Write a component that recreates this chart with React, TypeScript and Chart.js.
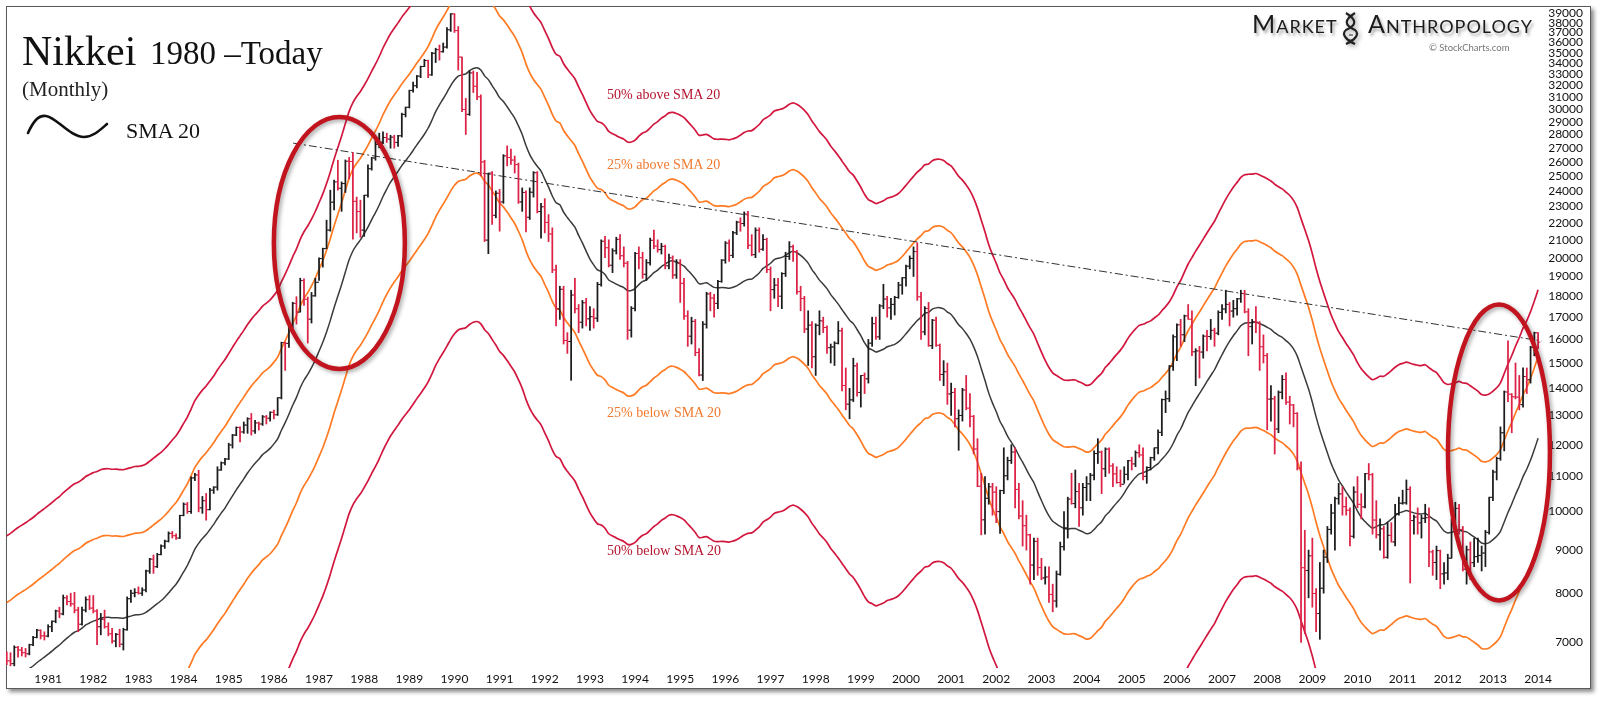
import React, { useEffect, useRef } from "react";
import { Chart, registerables } from "chart.js";
Chart.register(...registerables);

// Monthly Nikkei 225, Feb 1980 – Jan 2014 (x = months since Jan 1980)
const FIRST_MONTH = 1;

// closes Jul 1978 – Jan 1980, only used to warm up the 20-month SMA
const historyCloses = [
  5800, 5850, 5880, 5950, 5980, 6002,
  6150, 6080, 6070, 6080, 6220, 6310, 6390, 6480, 6540, 6560, 6520, 6569,
  6720,
];

const opens = [
  6720, 6650, 6600, 6900, 6850, 6800, 6780, 6950, 7090, 7230, 7120,
  7116, 7300, 7410, 7620, 7560, 7900, 7820, 7770, 7640, 7350, 7640, 7860,
  7681, 7620, 7300, 7450, 7300, 7160, 7020, 7150, 6960, 7240, 7880, 8000,
  8016, 8000, 8070, 8500, 8780, 8600, 8890, 9100, 9220, 9420, 9360, 9300,
  9893, 10200, 10000, 10960, 11050, 10100, 10300, 10050, 10600, 10690, 11200, 11420,
  11542, 11992, 12321, 12580, 12426, 12662, 12882, 12461, 12736, 12700, 12950, 12900,
  13113, 13024, 13641, 15860, 15826, 16610, 17654, 17240, 18787, 17852, 16910, 18020,
  18701, 19950, 20500, 21566, 23274, 24600, 24176, 24489, 26029, 26011, 23329, 22686,
  21564, 23719, 25500, 26260, 27256, 27417, 27769, 27650, 27800, 27400, 27900, 29579,
  30159, 31581, 31985, 32839, 33713, 34267, 32949, 34954, 35300, 35100, 35549, 37269,
  38916, 37189, 34591, 29980, 29585, 33131, 31940, 31036, 25978, 20984, 25194, 22455,
  23849, 23293, 26409, 26292, 26111, 25790, 23291, 23900, 22336, 23916, 25222, 22687,
  22984, 22023, 21338, 19346, 17391, 18348, 15952, 15910, 18061, 17399, 16767, 17685,
  16925, 17024, 16953, 18591, 20919, 20552, 19591, 20380, 21027, 20106, 19703, 16408,
  17417, 20229, 19997, 19112, 19725, 20974, 20644, 20449, 20629, 19564, 19990, 19076,
  19723, 18650, 17053, 16140, 16807, 15437, 14517, 16678, 18117, 17913, 17655, 18744,
  19868, 20813, 20125, 21407, 22041, 21956, 22531, 20693, 20167, 21556, 20467, 21020,
  19361, 18330, 18557, 18003, 19151, 20069, 20605, 20331, 18229, 17888, 16459, 16636,
  15259, 16628, 16832, 16527, 15641, 15671, 15831, 16379, 14108, 13406, 13565, 14883,
  13842, 14499, 14368, 15837, 16702, 16112, 17530, 17862, 17437, 17605, 17942, 18558,
  18934, 19540, 19960, 20337, 17974, 16332, 17411, 15727, 16861, 15747, 14539, 14649,
  13786, 13843, 12883, 12999, 13934, 13262, 12969, 11860, 10714, 9775, 10367, 10697,
  10543, 9997, 10588, 11025, 11493, 11764, 10622, 9877, 9619, 9383, 8640, 9216,
  8579, 8340, 8363, 7973, 7831, 8425, 9083, 9563, 10344, 10219, 10560, 10101,
  10677, 10784, 11042, 11715, 11762, 11236, 11859, 11326, 11082, 10824, 10771, 11069,
  11489, 11388, 11741, 11669, 11009, 11277, 11584, 11900, 12414, 13574, 13607, 14872,
  16111, 16650, 16205, 17060, 16907, 15467, 15505, 15457, 16141, 16128, 16399, 16274,
  17226, 17383, 17604, 17288, 17400, 17876, 18138, 17249, 16569, 16786, 16737, 15681,
  15308, 13592, 13603, 12526, 13850, 14339, 13481, 13377, 13073, 11260, 8577, 8512,
  8860, 7994, 7568, 8110, 8828, 9523, 9958, 10357, 10493, 10133, 10035, 9346,
  10546, 10198, 10126, 11090, 11057, 9769, 9383, 9537, 8824, 9369, 9202, 9937,
  10229, 10238, 10624, 9755, 9850, 9694, 9816, 9833, 8955, 8700, 8988, 8435,
  8455, 8803, 9723, 10084, 9521, 8543, 9007, 8695, 8840, 8870, 8928, 9446,
  10395, 11139, 11559, 12398, 13861, 13775, 13677, 13668, 13389, 14456, 14328, 15662,
  16291,
];

const highs = [
  6815, 6800, 6930, 6920, 6900, 6880, 6960, 7110, 7250, 7240, 7200,
  7340, 7420, 7640, 7700, 7960, 7950, 8000, 8020, 7700, 7700, 7920, 7950,
  7950, 7650, 7570, 7640, 7380, 7270, 7170, 7250, 7270, 7920, 8070, 8100,
  8140, 8120, 8520, 8800, 8880, 8920, 9130, 9250, 9460, 9470, 9410, 9900,
  10240, 10250, 10990, 11100, 11190, 10420, 10505, 10650, 10700, 11300, 11450, 11560,
  12050, 12345, 12600, 12600, 12770, 12920, 13070, 12830, 12770, 13000, 13000, 13130,
  13190, 13650, 15880, 15880, 16730, 17710, 17980, 18910, 18880, 17960, 18190, 18910,
  19990, 20530, 22160, 24050, 24720, 26100, 24600, 26120, 26300, 26646, 23600, 23400,
  23720, 25770, 26300, 27570, 28100, 28200, 28100, 27940, 27940, 27940, 29680, 30180,
  31600, 32300, 32900, 33750, 34380, 34300, 35050, 35440, 35750, 35950, 37500, 38957,
  38950, 37600, 34600, 30900, 33300, 33300, 33170, 31200, 26100, 25200, 25300, 24000,
  24100, 26500, 27146, 26900, 26400, 25900, 24200, 24000, 24200, 25300, 25300, 23200,
  23500, 22500, 21700, 19600, 18500, 18500, 16300, 18300, 18900, 17600, 17800, 17900,
  17500, 17400, 18700, 21000, 21200, 21000, 20500, 21150, 21300, 20600, 19800, 17500,
  20300, 20600, 20300, 19900, 21100, 21573, 21000, 20800, 20700, 20200, 20100, 19900,
  19900, 18900, 17300, 17000, 16900, 15600, 16800, 18200, 18200, 18100, 18800, 19900,
  20900, 21000, 21500, 22100, 22300, 22666, 22700, 21300, 21700, 21700, 21300, 21100,
  19500, 18900, 18900, 19200, 20300, 20900, 20700, 20400, 18500, 18000, 17300, 16800,
  16700, 17300, 17000, 16600, 15800, 15900, 16800, 16500, 14800, 14000, 15200, 15000,
  14500, 14600, 16000, 17000, 17000, 17600, 18600, 18000, 17900, 18000, 18700, 18950,
  19600, 20100, 20600, 20833, 18200, 17500, 17700, 16900, 17000, 15800, 15100, 15000,
  14200, 14000, 13200, 14000, 14500, 13800, 13000, 12200, 11100, 11000, 10800, 10800,
  10700, 10600, 11900, 11600, 12000, 11900, 10800, 10300, 9900, 9400, 9300, 9300,
  8800, 8600, 8600, 8200, 8500, 9200, 10000, 10400, 11100, 11200, 10800, 10800,
  11000, 11100, 11800, 12200, 11800, 11900, 11900, 11400, 11300, 11200, 11300, 11500,
  11600, 11800, 12000, 11900, 11300, 11600, 11900, 12500, 13600, 13900, 14900, 16200,
  16700, 16900, 17100, 17600, 17300, 15600, 15700, 16200, 16400, 16900, 16500, 17300,
  17600, 18300, 17700, 17800, 17900, 18300, 18300, 17400, 16900, 17500, 16800, 16200,
  15400, 14100, 13700, 13900, 14500, 14600, 13700, 13400, 13100, 11456, 9500, 9000,
  9300, 8100, 8700, 9000, 9600, 10200, 10400, 10800, 10700, 10400, 10100, 10700,
  11000, 10500, 11100, 11400, 11100, 10300, 9800, 9600, 9700, 9700, 10200, 10400,
  10600, 10900, 10700, 9900, 10100, 9900, 10200, 10100, 9000, 9100, 9000, 8700,
  8900, 9800, 10255, 10200, 9600, 9100, 9200, 9300, 9300, 9100, 9500, 10400,
  11200, 11600, 12600, 13900, 15942, 13800, 15000, 14500, 14800, 14800, 15700, 16320,
  16300,
];

const lows = [
  6580, 6560, 6560, 6720, 6740, 6720, 6760, 6930, 7080, 7060, 7040,
  7100, 7200, 7380, 7480, 7540, 7750, 7720, 7580, 7200, 7330, 7600, 7650,
  7580, 6950, 7140, 7270, 7120, 6980, 6910, 6910, 6850, 7230, 7800, 7920,
  7980, 7950, 8030, 8445, 8445, 8580, 8880, 9040, 9200, 9300, 9265, 9290,
  9880, 9950, 9950, 10880, 9990, 9950, 9765, 10040, 10505, 10600, 11190, 11360,
  11520, 11890, 12300, 12095, 12380, 12380, 12320, 12380, 12490, 12650, 12700, 12800,
  12880, 13000, 13600, 14700, 15650, 16500, 16680, 17240, 17560, 15840, 16730, 18000,
  18800, 19490, 20500, 21500, 22780, 24050, 22700, 23900, 24800, 21037, 21400, 21150,
  21200, 23600, 25400, 26100, 27000, 27300, 27400, 26970, 26970, 27100, 27800, 29380,
  30100, 31420, 31800, 32700, 33700, 32700, 32900, 34080, 34300, 35050, 35450, 37100,
  37000, 33380, 29800, 28002, 29500, 31400, 30800, 25000, 20900, 20221, 21900, 22300,
  21500, 23200, 25700, 25800, 25200, 23200, 22700, 21456, 22200, 23600, 22600, 21100,
  21400, 20900, 19200, 16600, 16900, 15800, 15400, 14309, 17200, 16300, 16500, 16600,
  16400, 16500, 16800, 18500, 20000, 19500, 19200, 20200, 19900, 19500, 16000, 16100,
  17300, 19400, 18900, 18800, 19600, 20500, 20300, 20200, 19400, 19400, 18900, 18900,
  17700, 16900, 15700, 15800, 15300, 14485, 14300, 16500, 17300, 17000, 17400, 18700,
  19700, 19800, 20000, 21300, 21500, 21800, 20500, 20100, 20000, 20300, 20400, 19200,
  17300, 17900, 17500, 17400, 19000, 19900, 19800, 18100, 17300, 16300, 14900, 14800,
  14500, 16200, 16300, 15400, 15000, 14900, 15800, 13900, 13200, 12880, 13500, 13700,
  13300, 13800, 14200, 15700, 16000, 16000, 17400, 17000, 16900, 17100, 17900, 18100,
  18500, 19400, 19000, 17800, 16000, 16200, 15700, 15600, 15700, 14300, 14100, 13400,
  13000, 12600, 11819, 12800, 13200, 12600, 11700, 10700, 9382, 9400, 10200, 9900,
  9700, 9420, 10500, 10900, 11400, 10100, 9800, 9100, 9000, 8200, 8300, 8400,
  8300, 8200, 7800, 7603, 7700, 8400, 9000, 9300, 10200, 10100, 9600, 9900,
  10300, 10300, 10900, 11400, 10500, 11000, 11100, 10700, 10800, 10700, 10800, 10900,
  11200, 11300, 11600, 10900, 10800, 11200, 11500, 11700, 12300, 13100, 13500, 14700,
  15100, 15700, 15900, 16900, 15300, 14100, 14400, 15200, 15500, 16000, 15700, 16200,
  16900, 17200, 16600, 17000, 17100, 17700, 17200, 15300, 15800, 16300, 14700, 15000,
  12500, 12800, 11700, 12400, 13600, 13400, 12700, 12600, 11200, 6994, 7162, 7900,
  7700, 7200, 7054, 8000, 8700, 9400, 9000, 10200, 9900, 9900, 9100, 9300,
  10100, 9800, 10100, 10900, 9400, 9300, 9000, 8800, 8800, 9200, 9100, 9900,
  10200, 10200, 8227, 9400, 9400, 9300, 9700, 8600, 8400, 8300, 8100, 8200,
  8300, 8800, 9700, 9400, 8500, 8200, 8300, 8600, 8700, 8500, 8600, 9400,
  10300, 10900, 11500, 11800, 13500, 12400, 13600, 13200, 13300, 13800, 14200, 15300,
  15600,
];

const closes = [
  6650, 6600, 6900, 6850, 6800, 6780, 6950, 7090, 7230, 7120, 7116,
  7300, 7410, 7620, 7560, 7900, 7820, 7770, 7640, 7350, 7640, 7860, 7681,
  7620, 7300, 7450, 7300, 7160, 7020, 7150, 6960, 7240, 7880, 8000, 8016,
  8000, 8070, 8500, 8780, 8600, 8890, 9100, 9220, 9420, 9360, 9300, 9893,
  10200, 10000, 10960, 11050, 10100, 10300, 10050, 10600, 10690, 11200, 11420, 11542,
  11992, 12321, 12580, 12426, 12662, 12882, 12461, 12736, 12700, 12950, 12900, 13113,
  13024, 13641, 15860, 15826, 16610, 17654, 17240, 18787, 17852, 16910, 18020, 18701,
  19950, 20500, 21566, 23274, 24600, 24176, 24489, 26029, 26011, 23329, 22686, 21564,
  23719, 25500, 26260, 27256, 27417, 27769, 27650, 27800, 27400, 27900, 29579, 30159,
  31581, 31985, 32839, 33713, 34267, 32949, 34954, 35300, 35100, 35549, 37269, 38916,
  37189, 34591, 29980, 29585, 33131, 31940, 31036, 25978, 20984, 25194, 22455, 23849,
  23293, 26409, 26292, 26111, 25790, 23291, 23900, 22336, 23916, 25222, 22687, 22984,
  22023, 21338, 19346, 17391, 18348, 15952, 15910, 18061, 17399, 16767, 17685, 16925,
  17024, 16953, 18591, 20919, 20552, 19591, 20380, 21027, 20106, 19703, 16408, 17417,
  20229, 19997, 19112, 19725, 20974, 20644, 20449, 20629, 19564, 19990, 19076, 19723,
  18650, 17053, 16140, 16807, 15437, 14517, 16678, 18117, 17913, 17655, 18744, 19868,
  20813, 20125, 21407, 22041, 21956, 22531, 20693, 20167, 21556, 20467, 21020, 19361,
  18330, 18557, 18003, 19151, 20069, 20605, 20331, 18229, 17888, 16459, 16636, 15259,
  16628, 16832, 16527, 15641, 15671, 15831, 16379, 14108, 13406, 13565, 14883, 13842,
  14499, 14368, 15837, 16702, 16112, 17530, 17862, 17437, 17605, 17942, 18558, 18934,
  19540, 19960, 20337, 17974, 16332, 17411, 15727, 16861, 15747, 14539, 14649, 13786,
  13843, 12883, 12999, 13934, 13262, 12969, 11860, 10714, 9775, 10367, 10697, 10543,
  9997, 10588, 11025, 11493, 11764, 10622, 9877, 9619, 9383, 8640, 9216, 8579,
  8340, 8363, 7973, 7831, 8425, 9083, 9563, 10344, 10219, 10560, 10101, 10677,
  10784, 11042, 11715, 11762, 11236, 11859, 11326, 11082, 10824, 10771, 11069, 11489,
  11388, 11741, 11669, 11009, 11277, 11584, 11900, 12414, 13574, 13607, 14872, 16111,
  16650, 16205, 17060, 16907, 15467, 15505, 15457, 16141, 16128, 16399, 16274, 17226,
  17383, 17604, 17288, 17400, 17876, 18138, 17249, 16569, 16786, 16737, 15681, 15308,
  13592, 13603, 12526, 13850, 14339, 13481, 13377, 13073, 11260, 8577, 8512, 8860,
  7994, 7568, 8110, 8828, 9523, 9958, 10357, 10493, 10133, 10035, 9346, 10546,
  10198, 10126, 11090, 11057, 9769, 9383, 9537, 8824, 9369, 9202, 9937, 10229,
  10238, 10624, 9755, 9850, 9694, 9816, 9833, 8955, 8700, 8988, 8435, 8455,
  8803, 9723, 10084, 9521, 8543, 9007, 8695, 8840, 8870, 8928, 9446, 10395,
  11139, 11559, 12398, 13861, 13775, 13677, 13668, 13389, 14456, 14328, 15662, 16291,
  15880,
];

const yearLabels = [
  "1981", "1982", "1983", "1984", "1985", "1986", "1987", "1988", "1989", "1990",
  "1991", "1992", "1993", "1994", "1995", "1996", "1997", "1998", "1999", "2000",
  "2001", "2002", "2003", "2004", "2005", "2006", "2007", "2008", "2009", "2010",
  "2011", "2012", "2013", "2014",
];

const yTicks = [
  7000, 8000, 9000, 10000, 11000, 12000, 13000, 14000, 15000, 16000, 17000,
  18000, 19000, 20000, 21000, 22000, 23000, 24000, 25000, 26000, 27000, 28000,
  29000, 30000, 31000, 32000, 33000, 34000, 35000, 36000, 37000, 38000, 39000,
];

// dash-dot resistance line: [month, value]
const trendStart = [77.1, 27350];
const trendEnd = [409.0, 15930];

// highlight ellipses: centre [month, value]
const ellipseCenters = [
  [89.4, 20820],
  [397.6, 11750],
];
const ellipseRadii = [
  [65.5, 126],
  [51, 148],
];

const TICK_FONT = "'Liberation Sans Narrow', Lato, sans-serif";
const SERIF = "'Liberation Serif', 'DejaVu Serif', serif";

export default function App() {
  const canvasRef = useRef<HTMLCanvasElement | null>(null);

  useEffect(() => {
    document.body.style.margin = "0";
    const canvas = canvasRef.current;
    if (!canvas) return;

    const months = closes.map((_, i) => i + FIRST_MONTH);
    const all = [...historyCloses, ...closes];
    const sma = closes.map((_, i) => {
      const j = i + historyCloses.length;
      let s = 0;
      for (let k = j - 19; k <= j; k++) s += all[k];
      return s / 20;
    });
    const colors = closes.map((c, i) => (c >= opens[i] ? "#1c1c1c" : "#dc2346"));

    const line = (mult: number) => sma.map((v, i) => ({ x: months[i], y: v * mult }));
    const yearByMonth: Record<number, string> = {};
    yearLabels.forEach((y, i) => (yearByMonth[12 * (i + 1)] = y));

    const ellipsePlugin = {
      id: "ellipses",
      afterDatasetsDraw(chart: any) {
        const { ctx, scales } = chart;
        ctx.save();
        ctx.strokeStyle = "#c2141e";
        ctx.lineWidth = 4.5;
        ctx.shadowColor = "rgba(0,0,0,0.35)";
        ctx.shadowBlur = 4;
        ctx.shadowOffsetX = 2;
        ctx.shadowOffsetY = 2;
        ellipseCenters.forEach((c, i) => {
          ctx.beginPath();
          ctx.ellipse(
            scales.x.getPixelForValue(c[0]),
            scales.y.getPixelForValue(c[1]),
            ellipseRadii[i][0],
            ellipseRadii[i][1],
            0,
            0,
            Math.PI * 2
          );
          ctx.stroke();
        });
        ctx.restore();
      },
    };

    const bandStyle = (color: string, width: number, order: number) => ({
      type: "line" as const,
      borderColor: color,
      borderWidth: width,
      pointRadius: 0,
      tension: 0.3,
      fill: false,
      order,
    });

    const chart = new Chart(canvas, {
      type: "bar",
      data: {
        datasets: [
          {
            type: "bar",
            data: months.map((m, i) => ({ x: m, y: [lows[i], highs[i]] })) as any,
            backgroundColor: colors,
            borderWidth: 0,
            barThickness: 1.1,
            grouped: false,
            order: 0,
          } as any,
          {
            type: "line",
            data: months.map((m, i) => ({ x: m - 0.3, y: opens[i] })),
            showLine: false,
            pointStyle: "line",
            pointRadius: 1.1,
            pointBorderWidth: 1,
            pointBorderColor: colors,
            pointBackgroundColor: colors,
            order: 0,
          } as any,
          {
            type: "line",
            data: months.map((m, i) => ({ x: m + 0.3, y: closes[i] })),
            showLine: false,
            pointStyle: "line",
            pointRadius: 1.1,
            pointBorderWidth: 1,
            pointBorderColor: colors,
            pointBackgroundColor: colors,
            order: 0,
          } as any,
          { ...bandStyle("#3a3a3a", 1.5, 2), data: line(1) } as any,
          { ...bandStyle("#ff7a22", 1.7, 3), data: line(1.25) } as any,
          { ...bandStyle("#ff7a22", 1.7, 3), data: line(0.75) } as any,
          { ...bandStyle("#d2173f", 1.7, 4), data: line(1.5) } as any,
          { ...bandStyle("#d2173f", 1.7, 4), data: line(0.5) } as any,
          {
            type: "line",
            data: [
              { x: trendStart[0], y: trendStart[1] },
              { x: trendEnd[0], y: trendEnd[1] },
            ],
            borderColor: "#333",
            borderWidth: 1,
            borderDash: [8, 3, 2, 3],
            pointRadius: 0,
            order: 1,
          } as any,
        ],
      },
      options: {
        animation: false,
        responsive: false,
        maintainAspectRatio: false,
        events: [],
        layout: { padding: { left: 6, top: 6, right: 17, bottom: 13 } },
        plugins: { legend: { display: false }, tooltip: { enabled: false } },
        scales: {
          x: {
            type: "linear",
            min: 0.8,
            max: 410.9,
            offset: false,
            grid: { display: false, drawTicks: false },
            border: { display: false },
            afterBuildTicks: (s: any) => {
              s.ticks = yearLabels.map((_, i) => ({ value: 12 * (i + 1) }));
            },
            afterFit: (s: any) => {
              s.height = 20;
              s.paddingLeft = 0;
              s.paddingRight = 0;
            },
            ticks: {
              autoSkip: false,
              maxRotation: 0,
              minRotation: 0,
              padding: 4,
              color: "#111",
              font: { family: TICK_FONT, size: 12 },
              callback: (v: any) => yearByMonth[v] ?? "",
            },
          },
          y: {
            type: "logarithmic",
            position: "right",
            min: 6522,
            max: 39770,
            grid: { display: false, drawTicks: false },
            border: { display: false },
            afterBuildTicks: (s: any) => {
              s.ticks = yTicks.map((v) => ({ value: v }));
            },
            afterFit: (s: any) => {
              s.width = 34;
              s.paddingTop = 0;
              s.paddingBottom = 0;
            },
            ticks: {
              autoSkip: false,
              crossAlign: "far",
              padding: 0,
              color: "#111",
              font: { family: TICK_FONT, size: 12 },
              callback: (v: any) => String(v),
            },
          },
        },
      } as any,
      plugins: [ellipsePlugin],
    });

    return () => chart.destroy();
  }, []);

  const abs = (s: React.CSSProperties): React.CSSProperties => ({
    position: "absolute",
    whiteSpace: "nowrap",
    lineHeight: 1,
    margin: 0,
    ...s,
  });

  return (
    <div style={{ position: "absolute", left: 0, top: 0, width: 1600, height: 701, background: "#fff", overflow: "hidden" }}>
      <div
        style={{
          position: "absolute",
          left: 6,
          top: 6,
          width: 1583,
          height: 681,
          border: "1px solid #5a5a5a",
          boxShadow: "3px 3px 4px rgba(0,0,0,0.45)",
          background: "#fff",
        }}
      />
      <canvas ref={canvasRef} width={1600} height={701} style={{ position: "absolute", left: 0, top: 0 }} />

      <div style={abs({ left: 22, top: 30, fontFamily: SERIF, fontSize: 42, color: "#111" })}>Nikkei</div>
      <div style={abs({ left: 150, top: 37, fontFamily: SERIF, fontSize: 33, color: "#111" })}>1980 –Today</div>
      <div style={abs({ left: 22, top: 79, fontFamily: SERIF, fontSize: 21, color: "#222" })}>(Monthly)</div>
      <svg style={{ position: "absolute", left: 0, top: 0 }} width={130} height={160}>
        <path
          d="M28,133 C33,122 38,115 46,116 C56,117 70,137 84,137 C93,137 100,130 107,124"
          fill="none"
          stroke="#111"
          strokeWidth={2.6}
          strokeLinecap="round"
        />
      </svg>
      <div style={abs({ left: 126, top: 120, fontFamily: SERIF, fontSize: 22, color: "#111" })}>SMA 20</div>

      <div
        style={abs({
          left: 1252,
          top: 11,
          fontFamily: "Lato, sans-serif",
          fontSize: 25,
          fontVariant: "small-caps",
          letterSpacing: 1,
          color: "#1a1a1a",
          textShadow: "2px 3px 3px rgba(0,0,0,0.35)",
        })}
      >
        Market
      </div>
      <svg style={{ position: "absolute", left: 1342, top: 12, filter: "drop-shadow(2px 2px 2px rgba(0,0,0,0.35))" }} width={18} height={33}>
        <path d="M4,1 C15,8 15,13 4,18 C-1,22 4,28 13,32" fill="none" stroke="#222" strokeWidth={2.2} />
        <path d="M13,1 C2,8 2,13 13,18 C18,22 13,28 4,32" fill="none" stroke="#222" strokeWidth={2.2} />
        <path d="M6,5 L11,5 M7,23 L11,23 M6,28 L11,28" stroke="#222" strokeWidth={1.2} />
      </svg>
      <div
        style={abs({
          left: 1368,
          top: 11,
          fontFamily: "Lato, sans-serif",
          fontSize: 25,
          fontVariant: "small-caps",
          letterSpacing: 1,
          color: "#1a1a1a",
          textShadow: "2px 3px 3px rgba(0,0,0,0.35)",
        })}
      >
        Anthropology
      </div>
      <div style={abs({ left: 1429, top: 43, fontFamily: "Lato, sans-serif", fontSize: 9.5, color: "#777" })}>
        © StockCharts.com
      </div>

      <div style={abs({ left: 607, top: 88, fontFamily: SERIF, fontSize: 14, color: "#b5142f" })}>50% above SMA 20</div>
      <div style={abs({ left: 607, top: 158, fontFamily: SERIF, fontSize: 14, color: "#f07a2e" })}>25% above SMA 20</div>
      <div style={abs({ left: 607, top: 406, fontFamily: SERIF, fontSize: 14, color: "#f07a2e" })}>25% below SMA 20</div>
      <div style={abs({ left: 607, top: 544, fontFamily: SERIF, fontSize: 14, color: "#b5142f" })}>50% below SMA 20</div>
    </div>
  );
}
